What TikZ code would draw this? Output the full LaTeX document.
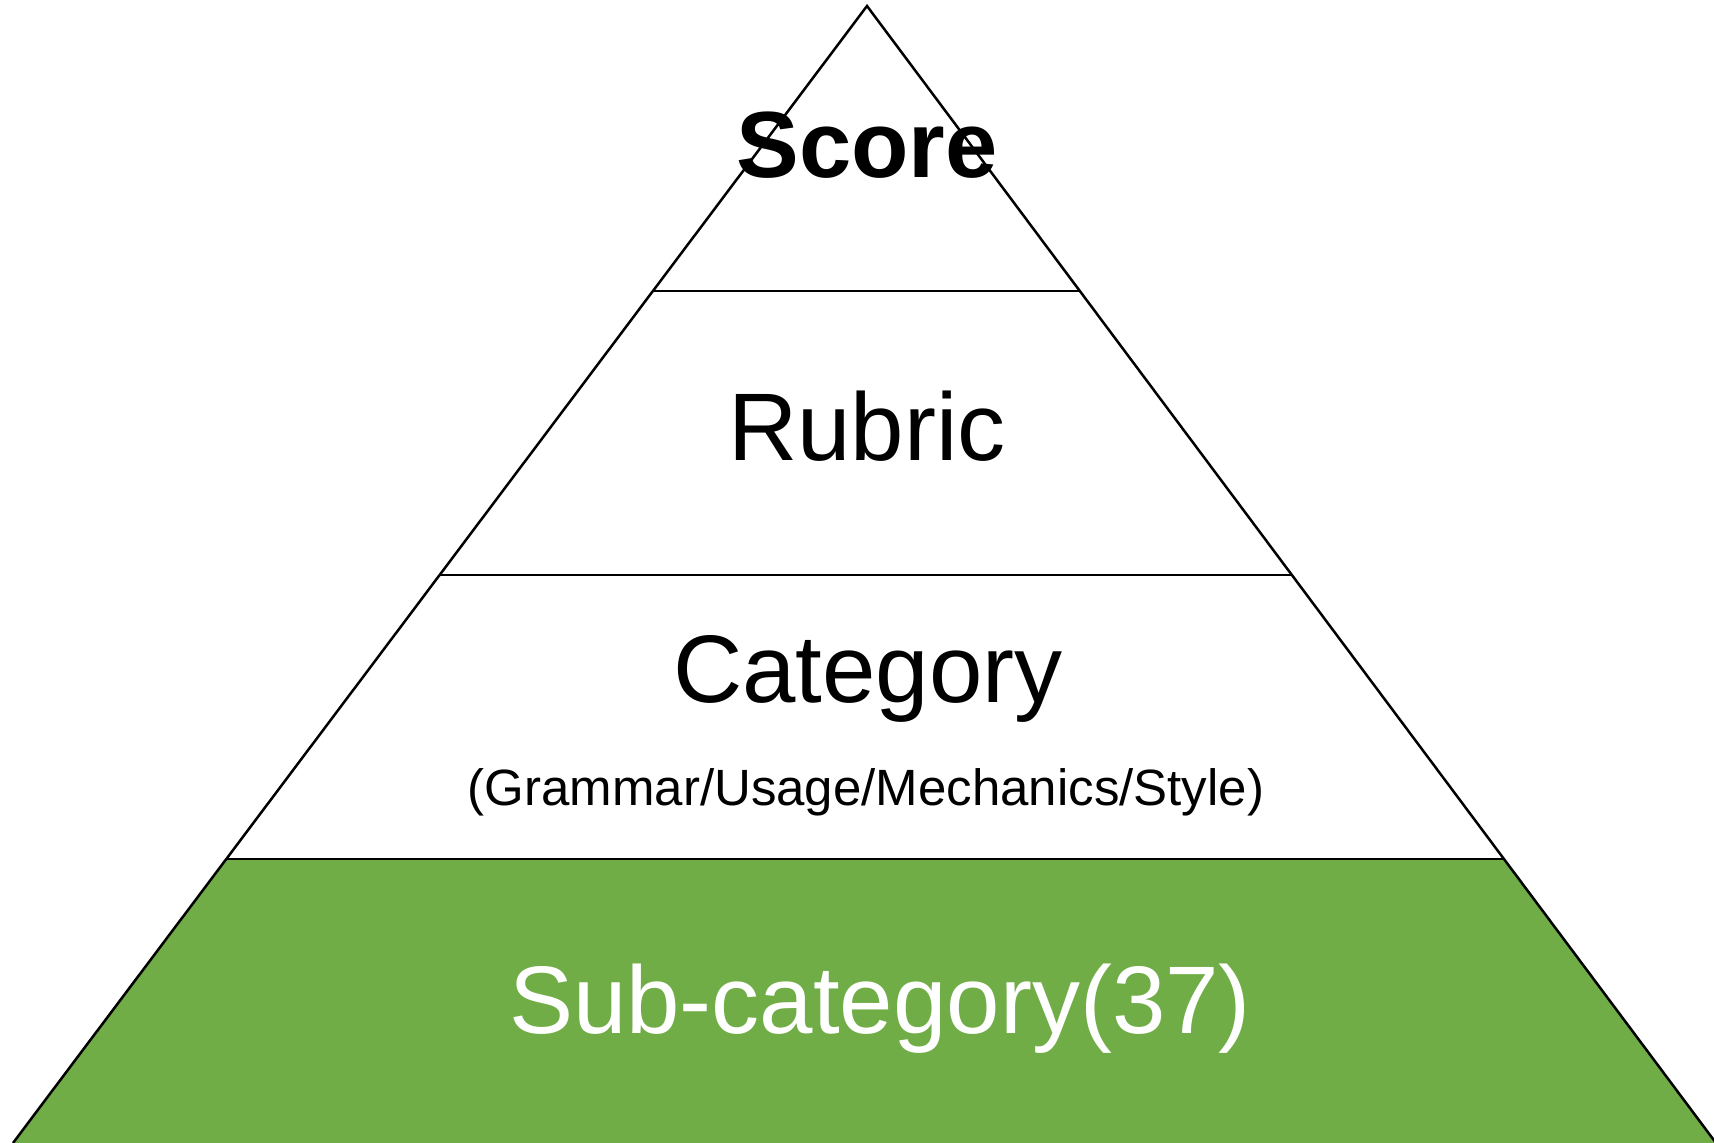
\documentclass[tikz,border=0pt]{standalone}
\usepackage{fontspec}
\setmainfont{Liberation Sans}
\definecolor{levelgreen}{RGB}{112,173,71}

\begin{document}
\begin{tikzpicture}[x=0.5pt,y=-0.5pt,
        edge/.style = {line width=1.25pt, black},
        level/.style = {anchor=base,
            font=\fontsize{48}{48}\selectfont}]

        \useasboundingbox (0,0) rectangle (1714,1143);
        \clip (0,0) rectangle (1714,1143);

        % Pyramid corners
        \coordinate (apex) at (867,6);
        \coordinate (baseL) at (13,1143);
        \coordinate (baseR) at (1716,1143);

        % Layer borders
        \coordinate (l1) at (653,291);  \coordinate (r1) at (1080,291);
        \coordinate (l2) at (440,575);  \coordinate (r2) at (1292,575);
        \coordinate (l3) at (226,859);  \coordinate (r3) at (1504,859);

        % Bottom layer
        \fill[levelgreen] (l3) -- (r3) -- (baseR) -- (baseL) -- cycle;

        % Outline
        \draw[edge] (baseL) -- (apex) -- (baseR);
        \draw[edge] (l1) -- (r1);
        \draw[edge] (l2) -- (r2);
        \draw[edge] (l3) -- (r3);

        % Labels
        \node[level,font=\fontsize{47}{47}\selectfont\bfseries] (score) at (867,178) {Score};
        \node[level] (rubric) at (867,461) {Rubric};
        \node[level] (category) at (868,703) {Category};
        \node[level,font=\fontsize{25.5}{25.5}\selectfont] (parts) at (866,806) {(Grammar/Usage/Mechanics/Style)};
        \node[level,white] (subcat) at (880,1033) {Sub-category(37)};

    \end{tikzpicture}
\end{document}
